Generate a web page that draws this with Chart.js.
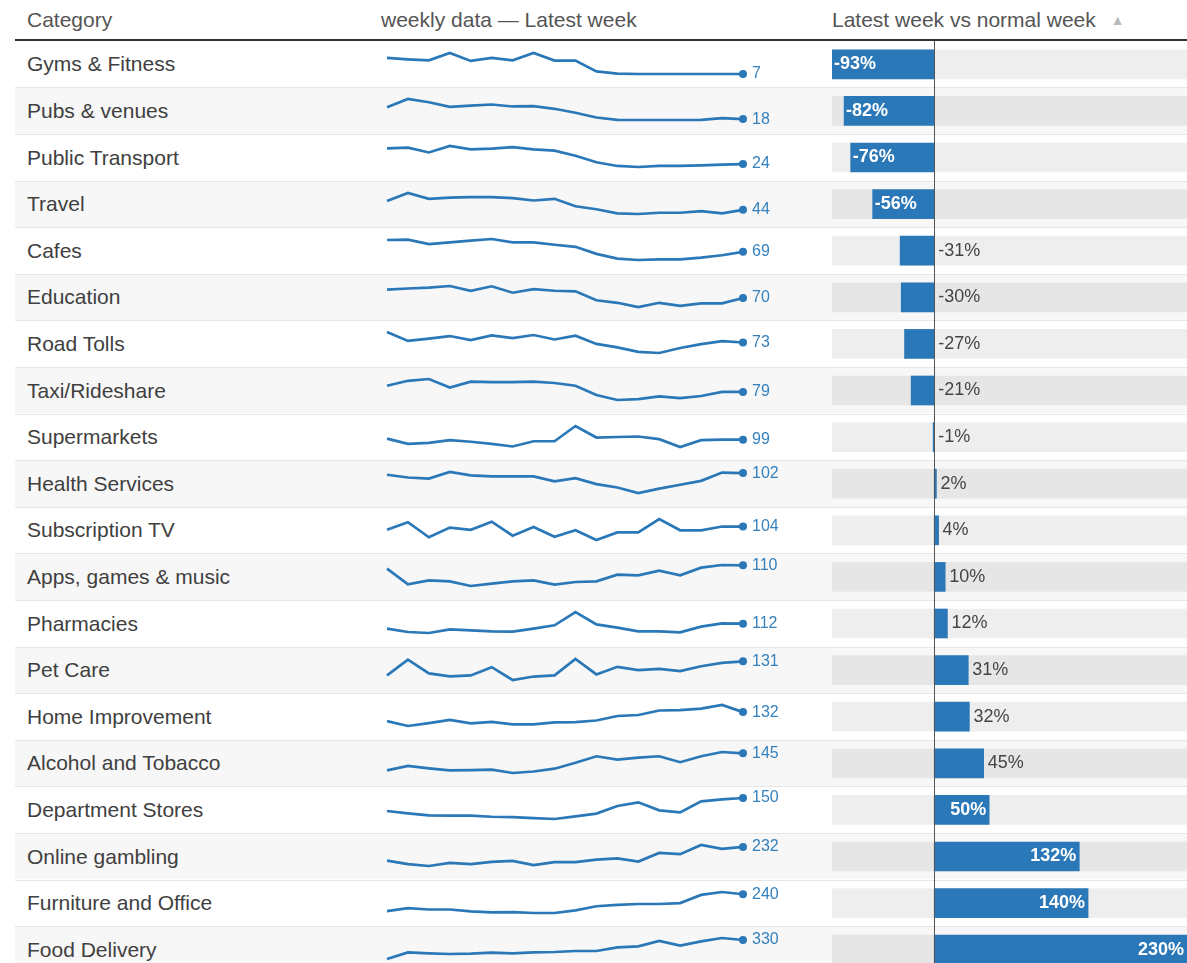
<!DOCTYPE html>
<html>
<head>
<meta charset="utf-8">
<title>Latest week vs normal week</title>
<script src="https://cdn.jsdelivr.net/npm/chart.js@4.4.0/dist/chart.umd.min.js"></script>
<style>
  html, body { margin: 0; padding: 0; background: #fff; overflow: hidden; }
  body { width: 1187px; height: 963px; font-family: "Liberation Sans", Arial, sans-serif; }
  #board { position: relative; width: 1187px; height: 963px; overflow: hidden; }
  .hdr { position: absolute; top: 0; height: 39px; line-height: 39px; font-size: 21px; color: #555; white-space: nowrap; }
  .hdr .arrow { color: #bbb; font-size: 14px; margin-left: 15px; vertical-align: 2px; }
  .hline { position: absolute; left: 15px; right: 0; top: 39px; height: 2px; background: #333; }
  .row { position: absolute; left: 15px; right: 0; box-sizing: border-box; }
  .row.alt { background: #f7f7f7; }
  .row.sep { border-top: 1px solid #e6e6e6; }
  .cat { position: absolute; left: 12px; top: 0; bottom: 0; display: flex; align-items: center;
         font-size: 21px; color: #404040; white-space: nowrap; }
  canvas { position: absolute; }
</style>
</head>
<body>
<div id="board">
  <div class="hdr" style="left:27px">Category</div>
  <div class="hdr" style="left:381px">weekly data — Latest week</div>
  <div class="hdr" style="left:832px">Latest week vs normal week<span class="arrow">▲</span></div>
  <div class="hline"></div>
</div>
<script>
'use strict';

/* --- Data --- */
const categories = [
  'Gyms & Fitness', 'Pubs & venues', 'Public Transport', 'Travel', 'Cafes',
  'Education', 'Road Tolls', 'Taxi/Rideshare', 'Supermarkets', 'Health Services',
  'Subscription TV', 'Apps, games & music', 'Pharmacies', 'Pet Care', 'Home Improvement',
  'Alcohol and Tobacco', 'Department Stores', 'Online gambling', 'Furniture and Office', 'Food Delivery'
];

// latest week vs normal week, in %
const vsNormal = [-93, -82, -76, -56, -31, -30, -27, -21, -1, 2, 4, 10, 12, 31, 32, 45, 50, 132, 140, 230];

// weekly index values (normal week = 100), oldest first
const gyms         = [104, 96, 90, 134, 86, 104, 90, 134, 88, 88, 23, 9, 7, 7, 7, 7, 7, 7];
const pubs         = [85, 131, 113, 87, 94, 100, 89, 91, 76, 54, 27, 14, 13, 13, 13, 14, 23, 18];
const transport    = [100, 103, 80, 111, 95, 98, 106, 95, 89, 64, 33, 15, 10, 15, 15, 18, 21, 24];
const travel       = [86, 125, 97, 103, 105, 105, 100, 89, 97, 61, 47, 27, 24, 30, 30, 38, 27, 44];
const cafes        = [104, 105, 92, 97, 102, 107, 97, 97, 90, 84, 63, 49, 45, 47, 47, 52, 59, 69];
const education    = [100, 104, 107, 113, 96, 112, 89, 102, 96, 94, 62, 53, 38, 53, 42, 51, 51, 70];
const roadTolls    = [125, 81, 92, 105, 85, 108, 95, 110, 88, 107, 66, 49, 27, 21, 46, 65, 80, 73];
const taxi         = [93, 104, 108, 89, 102, 101, 101, 102, 99, 93, 72, 61, 63, 69, 65, 70, 79, 79];
const supermarkets = [101, 91, 93, 98, 95, 91, 86, 96, 96, 125, 103, 104, 105, 100, 85, 98, 99, 99];
const health       = [100.5, 98, 97, 103, 100, 99, 99, 99, 94.5, 97.5, 92, 89, 84, 88, 91.5, 95, 102.5, 102];
const subTV        = [101, 108, 94, 103, 101, 108.5, 95.5, 103.5, 94.5, 100.5, 91.5, 98.5, 98.5, 111, 100.5, 100.5, 104, 104];
const apps         = [108, 98.6, 101, 100.4, 97.6, 99, 100.4, 101, 98.4, 100, 100.4, 104.4, 104, 106.8, 104, 108.6, 110.2, 110];
const pharmacies   = [103, 97, 95.2, 101.8, 100, 98.2, 97.6, 103, 109, 133, 110.8, 104.8, 98.2, 98.2, 96.4, 106.6, 112.6, 112];
const petCare      = [100, 134.6, 104.4, 97.9, 100, 118, 90, 97.6, 100, 136, 102.2, 118.8, 111.6, 114.4, 109.4, 120.2, 127.4, 131];
const homeImprove  = [104, 89, 98, 108, 97, 102, 94, 94, 100, 101, 106, 120, 123, 137, 138, 143, 154, 132];
const alcohol      = [99, 111, 104.5, 99, 100, 101, 92, 96, 103.6, 119.5, 137, 128, 133.6, 137, 121, 137, 148.5, 145];
const deptStores   = [112.6, 105.8, 100, 99, 99, 96, 95, 92, 89.5, 97, 105, 127, 137.5, 114.5, 108.7, 140.4, 146, 150];
const gambling     = [114, 83.5, 67, 94.5, 83.5, 103, 111, 75, 100, 100, 122, 133, 105.5, 180, 169, 248.5, 215.5, 232];
const furniture    = [100, 124, 113, 113, 97, 89, 92, 84, 84, 105.5, 140.5, 151, 159, 159, 167, 234.6, 259, 240];
const foodDelivery = [80, 167.6, 154.4, 145.6, 150, 163.2, 154.4, 167.6, 172, 185, 185, 233.4, 246.6, 316.8, 255.4, 312.4, 356.3, 330];

const weeklySeries = [
  gyms, pubs, transport, travel, cafes, education, roadTolls, taxi, supermarkets, health,
  subTV, apps, pharmacies, petCare, homeImprove, alcohol, deptStores, gambling, furniture, foodDelivery
];
const weekLabels = weeklySeries[0].map((_, i) => 'W' + (i + 1));

/* --- Layout --- */
const BLUE = '#2a78b7';
const FONT = '"Liberation Sans", Arial, sans-serif';
const ROWS_TOP = 40.7;
const ROW_H = 46.6;
const board = document.getElementById('board');

categories.forEach((name, i) => {
  const row = document.createElement('div');
  row.className = 'row' + (i % 2 ? ' alt' : '') + (i > 0 ? ' sep' : '');
  row.style.top = (ROWS_TOP + i * ROW_H) + 'px';
  row.style.height = ROW_H + 'px';
  const cat = document.createElement('div');
  cat.className = 'cat';
  cat.textContent = name;
  row.appendChild(cat);
  board.appendChild(row);
});

/* --- Sparklines --- */
const lastValueLabel = {
  id: 'lastValueLabel',
  afterDatasetsDraw(chart) {
    const data = chart.data.datasets[0].data;
    const pt = chart.getDatasetMeta(0).data[data.length - 1];
    const ctx = chart.ctx;
    ctx.save();
    ctx.font = '16px ' + FONT;
    ctx.fillStyle = '#3581bd';
    ctx.textAlign = 'left';
    ctx.textBaseline = 'middle';
    ctx.fillText(String(data[data.length - 1]), pt.x + 9, pt.y);
    ctx.restore();
  }
};

weeklySeries.forEach((series, i) => {
  const cv = document.createElement('canvas');
  cv.width = 420;
  cv.height = 46;
  cv.style.left = '380px';
  cv.style.top = Math.round(ROWS_TOP + i * ROW_H) + 'px';
  board.appendChild(cv);

  new Chart(cv, {
    type: 'line',
    data: {
      labels: weekLabels,
      datasets: [{
        data: series,
        borderColor: BLUE,
        borderWidth: 2.7,
        tension: 0,
        clip: false,
        pointRadius: series.map((_, k) => (k === series.length - 1 ? 4 : 0)),
        pointBackgroundColor: BLUE,
        pointBorderWidth: 0
      }]
    },
    options: {
      responsive: false,
      animation: false,
      events: [],
      layout: { padding: { left: 7, right: 57, top: 12, bottom: 13 } },
      plugins: { legend: { display: false }, tooltip: { enabled: false } },
      scales: {
        x: { display: false },
        y: { display: false, min: Math.min(...series), max: Math.max(...series) }
      }
    },
    plugins: [lastValueLabel]
  });
});

/* --- Bars: latest week vs normal week --- */
const pctMin = Math.min(...vsNormal);
const pctMax = Math.max(...vsNormal);

const zeroLine = {
  id: 'zeroLine',
  afterDatasetsDraw(chart) {
    const x = Math.round(chart.scales.x.getPixelForValue(0)) + 0.5;
    const ctx = chart.ctx;
    ctx.save();
    ctx.strokeStyle = '#555';
    ctx.lineWidth = 1;
    ctx.beginPath();
    ctx.moveTo(x, chart.chartArea.top);
    ctx.lineTo(x, chart.chartArea.bottom);
    ctx.stroke();
    ctx.restore();
  }
};

const barLabels = {
  id: 'barLabels',
  afterDraw(chart) {
    const ctx = chart.ctx;
    const meta = chart.getDatasetMeta(0);
    ctx.save();
    ctx.textBaseline = 'middle';
    meta.data.forEach((bar, i) => {
      const v = vsNormal[i];
      const txt = v + '%';
      const inside = Math.abs(v) >= 50;
      ctx.font = (inside ? 'bold ' : '') + '18px ' + FONT;
      ctx.fillStyle = inside ? '#fff' : '#444';
      if (v < 0) {
        ctx.textAlign = 'left';
        ctx.fillText(txt, inside ? bar.x + 2 : bar.base + 4, bar.y);
      } else if (inside) {
        ctx.textAlign = 'right';
        ctx.fillText(txt, bar.x - 3, bar.y);
      } else {
        ctx.textAlign = 'left';
        ctx.fillText(txt, bar.x + 4, bar.y);
      }
    });
    ctx.restore();
  }
};

const barCanvas = document.createElement('canvas');
barCanvas.width = 355;
barCanvas.height = Math.round(ROW_H * categories.length);
barCanvas.style.left = '832px';
barCanvas.style.top = Math.round(ROWS_TOP) + 'px';
board.appendChild(barCanvas);

new Chart(barCanvas, {
  type: 'bar',
  data: {
    labels: categories,
    datasets: [{
      data: vsNormal,
      backgroundColor: BLUE,
      barThickness: 29,
      grouped: false,
      order: 0
    }, {
      data: categories.map(() => [pctMin, pctMax]),
      backgroundColor: 'rgba(0,0,0,0.065)',
      barThickness: 29,
      grouped: false,
      order: 1
    }]
  },
  options: {
    indexAxis: 'y',
    responsive: false,
    animation: false,
    events: [],
    layout: { padding: 0 },
    plugins: { legend: { display: false }, tooltip: { enabled: false } },
    scales: {
      x: { display: false, min: pctMin, max: pctMax },
      y: { display: false }
    }
  },
  plugins: [zeroLine, barLabels]
});
</script>
</body>
</html>
